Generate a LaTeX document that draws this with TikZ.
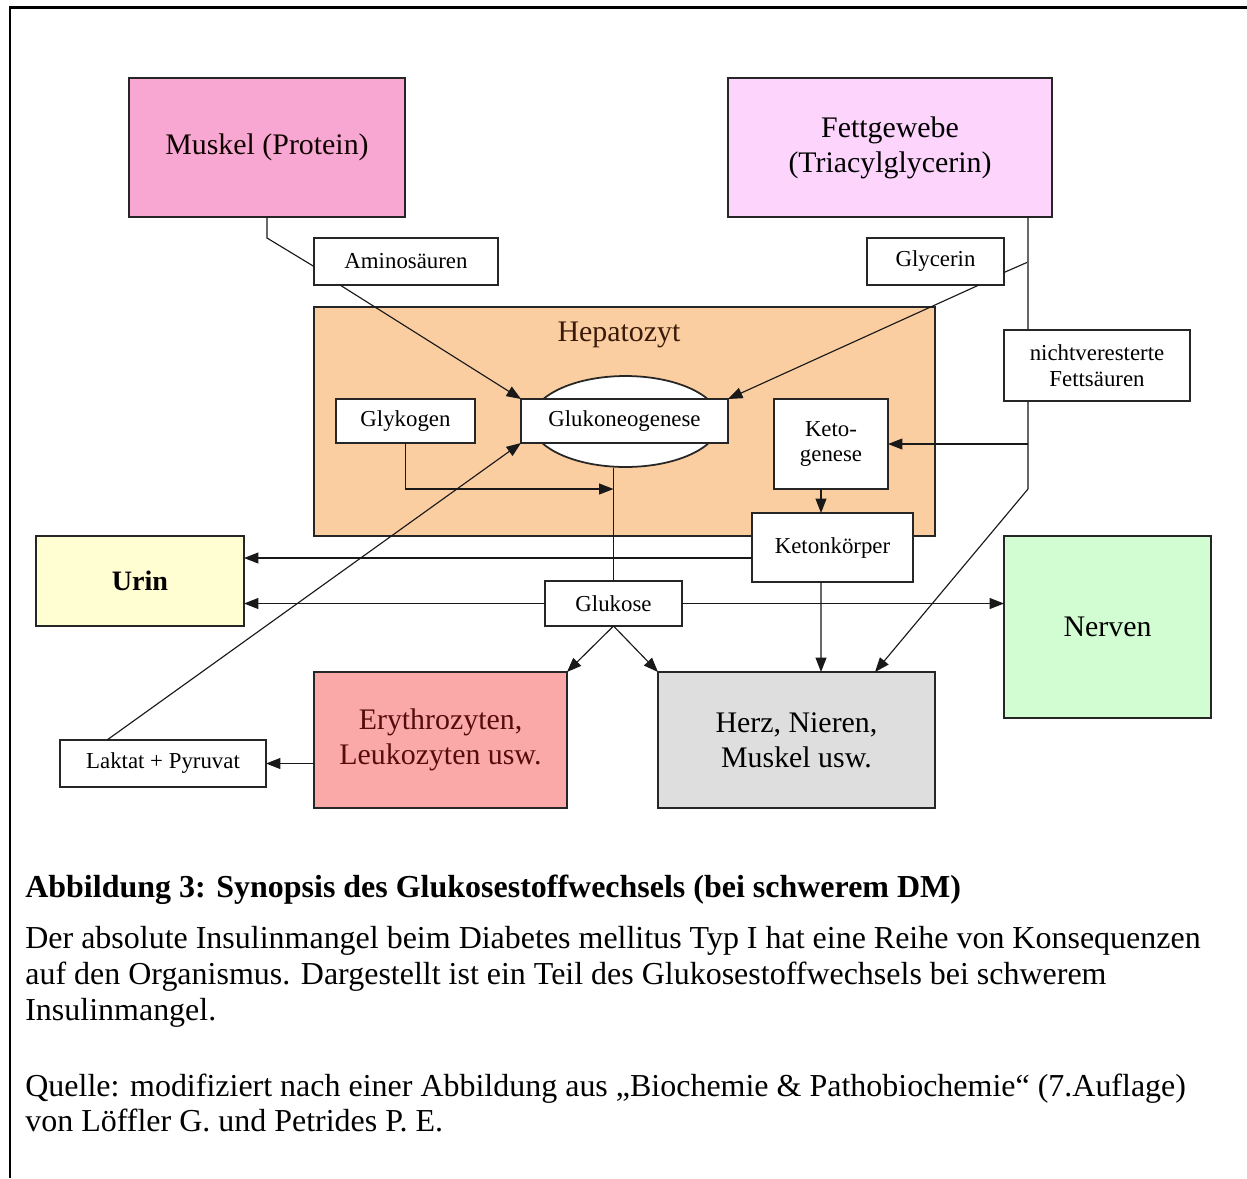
\documentclass[tikz,border=0pt]{standalone}
\usepackage{fontspec}
\setmainfont{Liberation Serif}
\usetikzlibrary{arrows.meta, positioning, calc, shapes.geometric}

\definecolor{muskelpink}{RGB}{247,167,209}
\definecolor{fettpink}{RGB}{252,212,252}
\definecolor{hepatoorange}{RGB}{251,206,161}
\definecolor{urinyellow}{RGB}{255,253,210}
\definecolor{nervengreen}{RGB}{210,252,210}
\definecolor{erypink}{RGB}{250,168,168}
\definecolor{herzgray}{RGB}{222,222,222}
\definecolor{darkred}{RGB}{85,12,12}
\definecolor{darkbrown}{RGB}{58,26,10}

\begin{document}
\begin{tikzpicture}[
    x=0.02cm, y=-0.02cm,
    box/.style={draw=black!85, line width=1pt, rectangle, inner sep=0pt, outer sep=0pt, align=center},
    small box/.style={box, fill=white, font=\fontsize{13}{14.5}\selectfont},
    organ/.style={box, font=\fontsize{17}{20}\selectfont},
    link/.style={draw=black!90, line width=0.65pt},
    arrow/.style={link, -{Triangle[length=0.29cm, width=0.22cm]}},
    every edge/.style={arrow},
    caption/.style={anchor=base west, inner sep=0pt, font=\fontsize{18.2}{21}\selectfont}
]

\useasboundingbox (0,0) rectangle (1247,1178);

% frame
\draw[line width=1.7pt] (10,1178) -- (10,7.5) -- (1247,7.5);

% liver cell with the ellipse behind Glukoneogenese
\node[box, fill=hepatoorange, minimum width=12.42cm, minimum height=4.58cm] (hepato) at (624.5,421.5) {};
\node[font=\fontsize{17}{20}\selectfont, text=darkbrown] (hepatitle) at ($(hepato.north)+(-5.5,28)$) {Hepatozyt};
\node[draw=black!85, line width=1pt, ellipse, fill=white, inner sep=0pt,
      minimum width=3.78cm, minimum height=1.82cm] (gneoell) at (625.5,421.5) {};

% organs
\node[organ, fill=muskelpink, text=black!80!darkred, minimum width=5.52cm, minimum height=2.78cm] (muskel) at (267,147.5) {Muskel (Protein)};
\node[organ, fill=fettpink, minimum width=6.48cm, minimum height=2.78cm] (fett) at (890,147.5) {Fettgewebe\\(Triacylglycerin)};
\node[organ, fill=urinyellow, font=\fontsize{16}{19}\selectfont\bfseries, minimum width=4.16cm, minimum height=1.8cm] (urin) at (140,581) {Urin};
\node[organ, fill=nervengreen, minimum width=4.14cm, minimum height=3.64cm] (nerven) at (1107.5,627) {Nerven};
\node[organ, fill=erypink, text=darkred, minimum width=5.06cm, minimum height=2.72cm] (ery) at (440.5,740) {Erythrozyten,\\Leukozyten usw.};
\node[organ, fill=herzgray, minimum width=5.54cm, minimum height=2.72cm] (herz) at (796.5,740) {Herz, Nieren,\\Muskel usw.};

% substances
\node[small box, minimum width=3.68cm, minimum height=0.94cm] (amino) at (406,261.5) {Aminosäuren};
\node[small box, minimum width=2.74cm, minimum height=0.94cm] (glycerin) at (935.5,261.5) {Glycerin};
\node[small box, minimum width=2.78cm, minimum height=0.88cm] (glykogen) at (405.5,421) {Glykogen};
\node[small box, minimum width=4.14cm, minimum height=0.88cm] (gneo) at (624.5,421) {Glukoneogenese};
\node[small box, minimum width=2.28cm, minimum height=1.8cm] (keto) at (831,444) {Keto-\\genese};
\node[small box, minimum width=3.22cm, minimum height=1.38cm] (ketonk) at (832.5,547.5) {Ketonkörper};
\node[small box, minimum width=2.74cm, minimum height=0.9cm] (glukose) at (613.5,603.5) {Glukose};
\node[small box, minimum width=4.12cm, minimum height=0.94cm] (laktat) at (163,763.5) {Laktat + Pyruvat};

% Muskel and Fettgewebe into the liver
\draw[link] (muskel.south) -- ++(0,21) -- ($(amino.west)+(0,5)$);
\path ($(amino.south)+(-66,0)$) edge (gneo.north west);
\coordinate (fsplit) at ($(fett.south)+(138,45)$);
\coordinate (fbend) at ($(fsplit)+(0,227)$);
\draw[link] ($(fett.south)+(138,0)$) -- (fsplit) -- ($(glycerin.east)+(0,11)$);
\path ($(glycerin.south)+(43.5,0)$) edge (gneo.north east);
\draw[link, draw=black!60] (fsplit) -- (fbend);
\path (fbend) edge ($(herz.north)+(78.5,0)$);
\path (fsplit |- keto.east) edge (keto.east);

% inside the liver
\draw[arrow] (glykogen.south) |- ($(glukose.north)+(0,-92)$);
\draw[link] (gneoell.south -| glukose.north) -- (glukose.north);
\path ($(keto.south)+(-10,0)$) edge ($(ketonk.north)+(-11.5,0)$);
\path ($(laktat.north)+(-56,0)$) edge (gneo.south west);

% Ketonkoerper and Glukose
\coordinate (kw) at ($(ketonk.west)+(0,10.5)$);
\path (kw) edge (kw -| urin.east);
\path ($(ketonk.south)+(-11.5,0)$) edge ($(herz.north)+(24.5,0)$);
\path (glukose.west) edge (glukose.west -| urin.east)
      (glukose.east) edge (glukose.east -| nerven.west)
      (glukose.south) edge (ery.north east)
      (glukose.south) edge (herz.north west);
\path (ery.west |- laktat.east) edge (laktat.east);

\node[small box, minimum width=3.72cm, minimum height=1.42cm] (nvfs) at (1097,365.5) {nichtveresterte\\Fettsäuren};

% caption
\node[caption, font=\fontsize{18.2}{21}\selectfont\bfseries] (title) at (25,897) {Abbildung 3: Synopsis des Glukosestoffwechsels (bei schwerem DM)};
\node[caption] (text1) at (25,948) {Der absolute Insulinmangel beim Diabetes mellitus Typ I hat eine Reihe von Konsequenzen};
\node[caption] (text2) at (25,984) {auf den Organismus. Dargestellt ist ein Teil des Glukosestoffwechsels bei schwerem};
\node[caption] (text3) at (25,1020) {Insulinmangel.};
\node[caption] (src1) at (25,1096) {Quelle: modifiziert nach einer Abbildung aus „Biochemie \& Pathobiochemie“ (7.Auflage)};
\node[caption] (src2) at (25,1131) {von Löffler G. und Petrides P. E.};

\end{tikzpicture}
\end{document}
